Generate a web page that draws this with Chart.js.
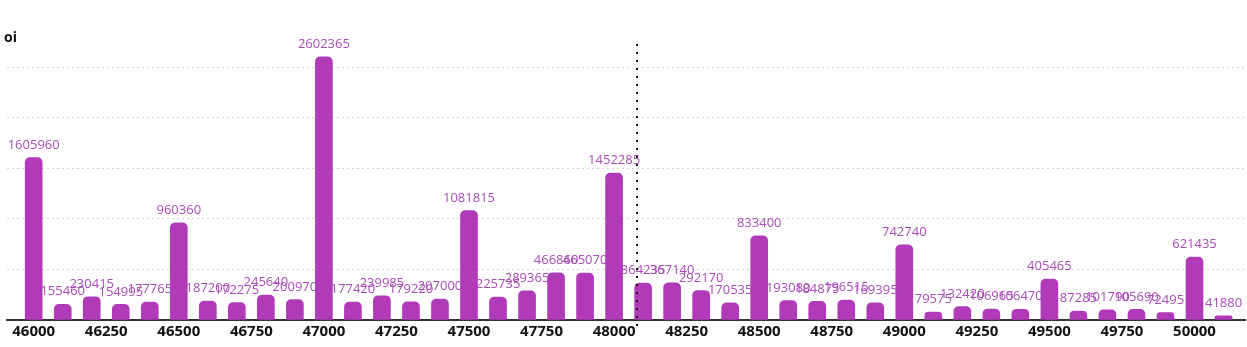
<!DOCTYPE html>
<html>
<head>
<meta charset="utf-8">
<script src="https://cdn.jsdelivr.net/npm/chart.js@4/dist/chart.umd.min.js"></script>
<style>
    html, body { margin: 0; padding: 0; background: #fff; }
    #wrap { width: 1247px; height: 347px; }
</style>
</head>
<body>
<div id="wrap"><canvas id="oiChart"></canvas></div>
<script>
var strikes = [46000, 46100, 46200, 46300, 46400, 46500, 46600, 46700, 46800, 46900,
               47000, 47100, 47200, 47300, 47400, 47500, 47600, 47700, 47800, 47900,
               48000, 48100, 48200, 48300, 48400, 48500, 48600, 48700, 48800, 48900,
               49000, 49100, 49200, 49300, 49400, 49500, 49600, 49700, 49800, 49900,
               50000, 50100];
var oiValues = [1605960, 155460, 230415, 154995, 177765, 960360, 187200, 172275, 245640, 200970,
                2602365, 177420, 239985, 179220, 207000, 1081815, 225735, 289365, 466860, 465070,
                1452285, 364235, 367140, 292170, 170535, 833400, 193080, 184875, 196515, 169395,
                742740, 79575, 132420, 106965, 106470, 405465, 87285, 101790, 105690, 72495,
                621435, 41880];
var strikeTicks = [46000, 46250, 46500, 46750, 47000, 47250, 47500, 47750, 48000,
                   48250, 48500, 48750, 49000, 49250, 49500, 49750, 50000];
var oiTicks = [0, 500000, 1000000, 1500000, 2000000, 2500000];
var spotPrice = 48078;

var points = strikes.map(function (s, i) { return { x: s, y: oiValues[i] }; });

// value labels above each bar, the "oi" caption and the dotted spot line
var overlay = {
    id: 'overlay',
    afterDatasetsDraw: function (chart) {
        var ctx = chart.ctx;
        var meta = chart.getDatasetMeta(0);
        ctx.save();
        ctx.font = '13px "Open Sans"';
        ctx.fillStyle = '#a94bb8';
        ctx.textAlign = 'center';
        ctx.textBaseline = 'middle';
        meta.data.forEach(function (bar, i) {
            ctx.fillText(oiValues[i], bar.x, bar.y - 12.5);
        });

        ctx.fillStyle = '#111';
        ctx.font = 'bold 14px "Open Sans"';
        ctx.textAlign = 'left';
        ctx.fillText('oi', 4, 38);

        var x = Math.round(chart.scales.x.getPixelForValue(spotPrice));
        var area = chart.chartArea;
        ctx.strokeStyle = '#111';
        ctx.lineWidth = 2;
        ctx.setLineDash([2, 6]);
        ctx.beginPath();
        ctx.moveTo(x, area.top);
        ctx.lineTo(x, area.bottom + 12);
        ctx.stroke();
        ctx.restore();
    }
};

var oiChart = new Chart(document.getElementById('oiChart'), {
    type: 'bar',
    data: {
        datasets: [{
            label: 'oi',
            data: points,
            backgroundColor: '#b03ab8',
            borderRadius: { topLeft: 5, topRight: 5 },
            borderSkipped: 'bottom',
            barThickness: 17
        }]
    },
    options: {
        responsive: true,
        maintainAspectRatio: false,
        animation: false,
        layout: { padding: { left: 7, right: 2, top: 44, bottom: 3 } },
        plugins: {
            legend: { display: false },
            tooltip: { enabled: false }
        },
        scales: {
            x: {
                type: 'linear',
                min: 45908,
                max: 50174,
                offset: false,
                grid: { display: false, drawTicks: false, offset: false },
                border: { display: true, color: '#333', width: 2 },
                afterBuildTicks: function (axis) {
                    axis.ticks = strikeTicks.map(function (v) { return { value: v }; });
                },
                ticks: {
                    padding: 3,
                    color: '#111',
                    maxRotation: 0,
                    autoSkip: false,
                    font: { family: 'Open Sans', size: 15, weight: 'bold' },
                    callback: function (v) { return String(v); }
                }
            },
            y: {
                min: 0,
                max: 2730000,
                grid: { color: '#d4d4d4', lineWidth: 1, drawTicks: false },
                border: { display: false, dash: [2, 3] },
                afterBuildTicks: function (axis) {
                    axis.ticks = oiTicks.map(function (v) { return { value: v }; });
                },
                ticks: { display: false }
            }
        }
    },
    plugins: [overlay]
});
</script>
</body>
</html>
